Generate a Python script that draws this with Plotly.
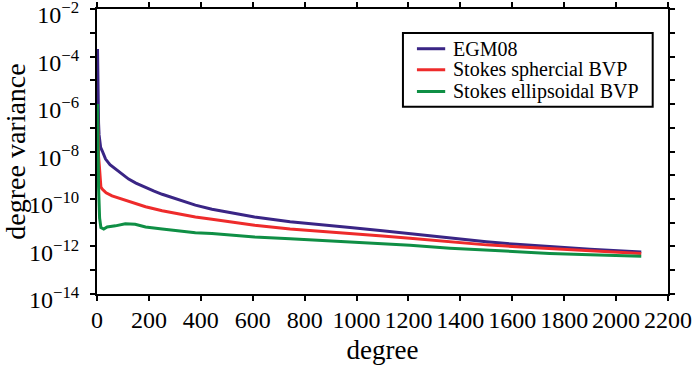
import plotly.graph_objects as go

# ---- data ----
egm_deg = [2, 3, 4, 6, 8, 10, 14, 20, 33, 50, 71, 95, 122, 150, 187, 220, 251, 315, 379, 443, 507, 607,
           744, 850, 975, 1100, 1206, 1360, 1500, 1616, 1744, 1900, 2097]
egm_var = [2.09e-4, 1e-5, 1e-6, 1.58e-7, 5.0e-8, 2.5e-8, 1.48e-8, 1.07e-8, 4.8e-9, 2.8e-9, 1.82e-9, 1.12e-9,
           6.9e-10, 4.7e-10, 3.0e-10, 2.14e-10, 1.58e-10, 9.1e-11, 5.5e-11, 3.7e-11, 2.7e-11, 1.74e-11,
           1.10e-11, 8.3e-12, 6.3e-12, 4.6e-12, 3.5e-12, 2.19e-12, 1.58e-12, 1.23e-12, 9.8e-13, 7.6e-13, 5.9e-13]

sph_deg = [2, 4, 6, 9, 12, 15, 20, 35, 58, 90, 122, 150, 187, 251, 315, 379, 443, 507, 607, 744, 850, 975,
           1100, 1206, 1360, 1500, 1616, 1744, 1900, 2097]
sph_var = [5e-7, 3.2e-8, 6.3e-9, 2.5e-9, 5e-10, 3.2e-10, 2.6e-10, 1.82e-10, 1.35e-10, 1.05e-10, 8.3e-11,
           6.5e-11, 4.7e-11, 3.2e-11, 2.4e-11, 1.74e-11, 1.41e-11, 1.12e-11, 7.9e-12, 5.5e-12, 4.4e-12,
           3.5e-12, 2.75e-12, 2.24e-12, 1.58e-12, 1.17e-12, 9.8e-13, 8.1e-13, 6.5e-13, 5.1e-13]

ell_deg = [2, 4, 6, 10, 15, 26, 39, 71, 109, 147, 187, 251, 315, 379, 443, 507, 607, 744, 850, 975, 1100,
           1206, 1360, 1500, 1616, 1744, 1900, 2097]
ell_var = [1e-6, 1e-8, 3.2e-10, 1.58e-11, 6.3e-12, 5.4e-12, 6.6e-12, 7.4e-12, 9.1e-12, 8.7e-12, 6.6e-12,
           5.4e-12, 4.5e-12, 3.8e-12, 3.5e-12, 3.0e-12, 2.5e-12, 2.1e-12, 1.82e-12, 1.58e-12, 1.32e-12,
           1.12e-12, 8.5e-13, 7.1e-13, 6.0e-13, 5.1e-13, 4.5e-13, 3.9e-13]

series_names = ["EGM08", "Stokes sphercial BVP", "Stokes ellipsoidal BVP"]

y_tickvals = [10.0 ** (-k) for k in range(2, 15)]
y_ticktext = ["10<sup>−%d</sup>" % k if k % 2 == 0 else "" for k in range(2, 15)]
x_tickvals = list(range(0, 2201, 200))
x_ticktext = [str(v) for v in x_tickvals]

colors = ["#3a2585", "#ee2b2b", "#0f8f45"]
FONT = "Liberation Serif"

fig = go.Figure()
for d, v, n, c in zip([egm_deg, sph_deg, ell_deg], [egm_var, sph_var, ell_var], series_names, colors):
    fig.add_trace(go.Scatter(x=d, y=v, mode="lines", name=n, showlegend=False,
                             line=dict(color=c, width=3)))

# ---- legend box drawn in plot-area (paper) coordinates ----
leg_x0, leg_x1, leg_y0, leg_y1 = 0.5358, 0.9732, 0.6568, 0.9157
row_y = [0.8606, 0.7868, 0.7106]
fig.add_shape(type="rect", xref="paper", yref="paper", x0=leg_x0, x1=leg_x1, y0=leg_y0, y1=leg_y1,
              line=dict(color="black", width=2), fillcolor="white", layer="above")
for ry, n, c in zip(row_y, series_names, colors):
    fig.add_shape(type="line", xref="paper", yref="paper", x0=0.5603, x1=0.6098, y0=ry, y1=ry,
                  line=dict(color=c, width=3), layer="above")
    fig.add_annotation(xref="paper", yref="paper", x=0.6198, y=ry, text=n, showarrow=False,
                       xanchor="left", yanchor="middle", font=dict(size=20, family=FONT, color="black"))

axis_common = dict(showline=True, linecolor="black", linewidth=2, mirror="ticks",
                   ticks="outside", ticklen=5, tickwidth=1.5, tickcolor="black",
                   showgrid=False, zeroline=False, automargin=False, ticklabeloverflow="allow")

fig.update_layout(
    width=700, height=369,
    margin=dict(l=97, r=32, t=9, b=75),
    paper_bgcolor="white", plot_bgcolor="white",
    font=dict(family=FONT, color="black"),
    xaxis=dict(range=[0, 2200], tickvals=x_tickvals, ticktext=x_ticktext,
               tickfont=dict(size=24, family=FONT), ticklabelstandoff=-2,
               title=dict(text="degree", font=dict(size=27, family=FONT), standoff=8),
               **axis_common),
    yaxis=dict(type="log", range=[-14.0005, -1.9995], tickvals=y_tickvals, ticktext=y_ticktext,
               tickfont=dict(size=24, family=FONT), ticklabelstandoff=6, ticklabelshift=6,
               title=dict(text="degree variance", font=dict(size=28, family=FONT), standoff=16),
               **axis_common),
)

fig.write_html("out.html", config={"displayModeBar": False},
               post_script="document.body.style.margin='0';document.body.style.overflow='hidden';")
